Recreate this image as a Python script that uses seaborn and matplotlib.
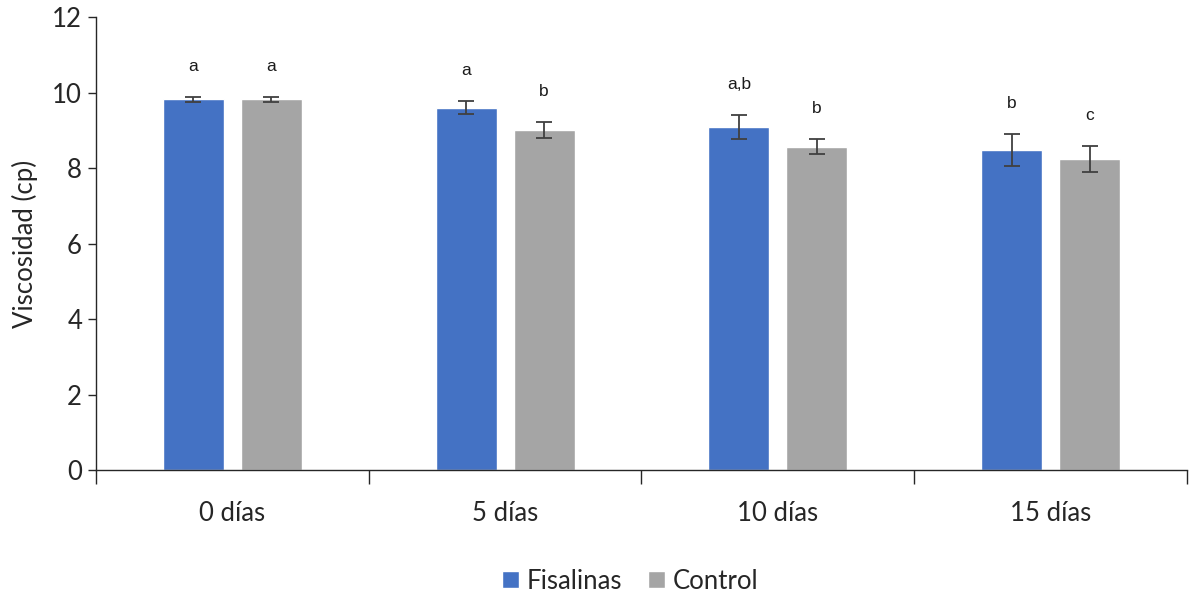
import matplotlib
matplotlib.use("Agg")
import matplotlib.pyplot as plt
import seaborn as sns
import pandas as pd
import numpy as np

categories = ["0 días", "5 días", "10 días", "15 días"]
series = ["Fisalinas", "Control"]
fisalinas = [9.82, 9.60, 9.08, 8.48]
control = [9.82, 9.00, 8.56, 8.24]
fisalinas_err = [0.06, 0.18, 0.32, 0.42]
control_err = [0.06, 0.21, 0.20, 0.34]
fisalinas_letters = ["a", "a", "a,b", "b"]
control_letters = ["a", "b", "b", "c"]

colors = {"Fisalinas": "#4472C4", "Control": "#A5A5A5"}

df = pd.DataFrame({
    "Tiempo": categories * 2,
    "Serie": ["Fisalinas"] * 4 + ["Control"] * 4,
    "Viscosidad": fisalinas + control,
    "Err": fisalinas_err + control_err,
    "Letra": fisalinas_letters + control_letters,
})

sns.set_style("white")
plt.rcParams["font.family"] = ["Lato", "DejaVu Sans"]

FS = 18.5

fig = plt.figure(figsize=(11.91, 5.96), dpi=100)
ax = fig.add_axes([0.0806, 0.2114, 0.916, 0.760])

sns.barplot(data=df, x="Tiempo", y="Viscosidad", hue="Serie", order=categories,
            hue_order=series, palette=colors, width=0.572, gap=0.22,
            errorbar=None, ax=ax, saturation=1, legend=True)

# error bars and letters
for ci, s in enumerate(series):
    sub = df[df["Serie"] == s].set_index("Tiempo").loc[categories]
    cont = ax.containers[ci]
    xs = [p.get_x() + p.get_width() / 2 for p in cont.patches]
    ax.errorbar(xs, sub["Viscosidad"].values, yerr=sub["Err"].values, fmt="none",
                ecolor="#404040", elinewidth=1.3, capsize=6, capthick=1.3)
    for x, v, e, t in zip(xs, sub["Viscosidad"].values, sub["Err"].values, sub["Letra"].values):
        ax.annotate(t, (x, v + e), xytext=(0, 22), textcoords="offset points",
                    ha="center", va="center", fontsize=12.5,
                    family=["Liberation Sans", "DejaVu Sans"], color="#1a1a1a")

ax.set_xlim(-0.5, 3.5)
ax.set_ylim(0, 12)
ax.set_yticks(np.arange(0, 13, 2))
ax.set_yticklabels([str(v) for v in range(0, 13, 2)], fontsize=FS, color="#262626")
ax.set_xticks(range(4))
ax.set_xticklabels(categories, fontsize=FS, color="#262626")
ax.set_xticks(np.arange(-0.5, 4, 1), minor=True)
ax.tick_params(axis="x", which="major", bottom=False, length=0, pad=22)
ax.tick_params(axis="x", which="minor", bottom=True, length=10, width=1, color="#262626")
ax.tick_params(axis="y", which="major", left=True, length=6, width=1, color="#262626", pad=4)
ax.set_xlabel("")
ax.set_ylabel("Viscosidad (cp)", fontsize=FS, color="#262626", labelpad=10)

for side in ["top", "right"]:
    ax.spines[side].set_visible(False)
for side in ["left", "bottom"]:
    ax.spines[side].set_color("#262626")
    ax.spines[side].set_linewidth(1)

handles, labels = ax.get_legend_handles_labels()
ax.get_legend().remove()
leg = fig.legend(handles, labels, loc="center", bbox_to_anchor=(0.529, 0.025), ncol=2,
                 frameon=False, fontsize=FS, handlelength=0.66, handleheight=0.6,
                 handletextpad=0.3, columnspacing=1.0)
for t in leg.get_texts():
    t.set_color("#262626")

fig.savefig("out.png", dpi=100)
